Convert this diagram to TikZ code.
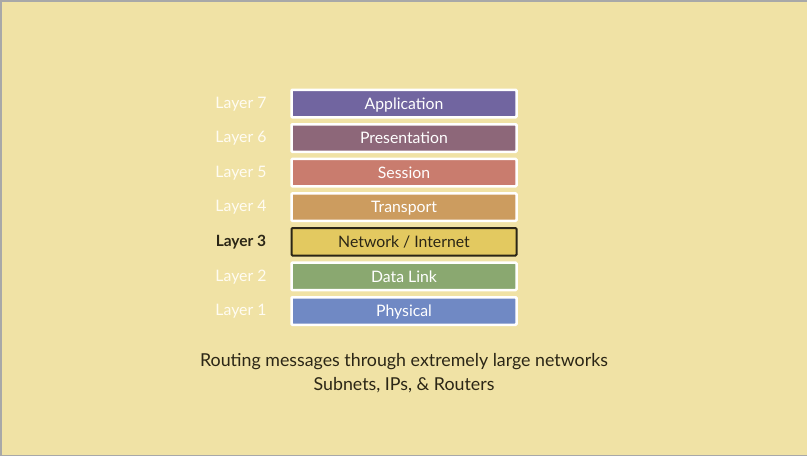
\documentclass[tikz,border=0pt]{standalone}
\usepackage{fontspec}
\setmainfont{Lato}
\definecolor{bg}{HTML}{F0E2A5}
\definecolor{frame}{HTML}{A8A8A8}
\definecolor{cApp}{HTML}{7165A0}
\definecolor{cPre}{HTML}{8D6779}
\definecolor{cSes}{HTML}{C97C6E}
\definecolor{cTra}{HTML}{CC9C5F}
\definecolor{cNet}{HTML}{E3C960}
\definecolor{cDat}{HTML}{8AA870}
\definecolor{cPhy}{HTML}{7089C4}
\definecolor{dark}{HTML}{2B2616}
\definecolor{lbl}{HTML}{FFFCF2}
\tikzset{
  layerbox/.style={draw=white, line width=2.5pt, rounded corners=1pt, minimum width=225pt, minimum height=27.5pt, inner sep=0pt, text height=14pt, text depth=2.6pt, text=white, font=\fontsize{15.8}{18}\selectfont},
  activebox/.style={layerbox, draw=dark, line width=2pt, text=dark},
  layerlbl/.style={text=lbl, font=\fontsize{15.8}{18}\selectfont, inner sep=0pt, text height=14pt, text depth=2.6pt},
  activelbl/.style={text=dark, font=\fontsize{15.5}{18}\selectfont\bfseries, inner sep=0pt, text height=14pt, text depth=2.6pt},
  caption/.style={text=dark, font=\fontsize{17.8}{23.5}\selectfont, align=center, inner sep=0pt}
}
\begin{document}
\begin{tikzpicture}[x=1pt,y=-1pt]
\useasboundingbox (0,0) rectangle (807,456);
\fill[bg] (0,0) rectangle (807,456);
\draw[frame, line width=1.5pt] (0.75,456) -- (0.75,0.75) -- (807,0.75);
\draw[frame, line width=1.5pt] (0,455.25) -- (807,455.25);
\node[layerbox, fill=cApp] (l7) at (404,103.5) {Application};
\node[layerbox, fill=cPre] (l6) at (404,138) {Presentation};
\node[layerbox, fill=cSes] (l5) at (404,172.6) {Session};
\node[layerbox, fill=cTra] (l4) at (404,207.2) {Transport};
\node[activebox, fill=cNet] (l3) at (404,241.8) {Network / Internet};
\node[layerbox, fill=cDat] (l2) at (404,276.4) {Data Link};
\node[layerbox, fill=cPhy] (l1) at (404,311) {Physical};
\node[layerlbl] (t7) at (241,102.5) {Layer 7};
\node[layerlbl] (t6) at (241,137) {Layer 6};
\node[layerlbl] (t5) at (241,171.6) {Layer 5};
\node[layerlbl] (t4) at (241,206.2) {Layer 4};
\node[activelbl] (t3) at (241,240.8) {Layer 3};
\node[layerlbl] (t2) at (241,275.4) {Layer 2};
\node[layerlbl] (t1) at (241,310) {Layer 1};
\node[caption] (cap) at (404,373) {Routing messages through extremely large networks\\Subnets, IPs, \& Routers};
\end{tikzpicture}
\end{document}
